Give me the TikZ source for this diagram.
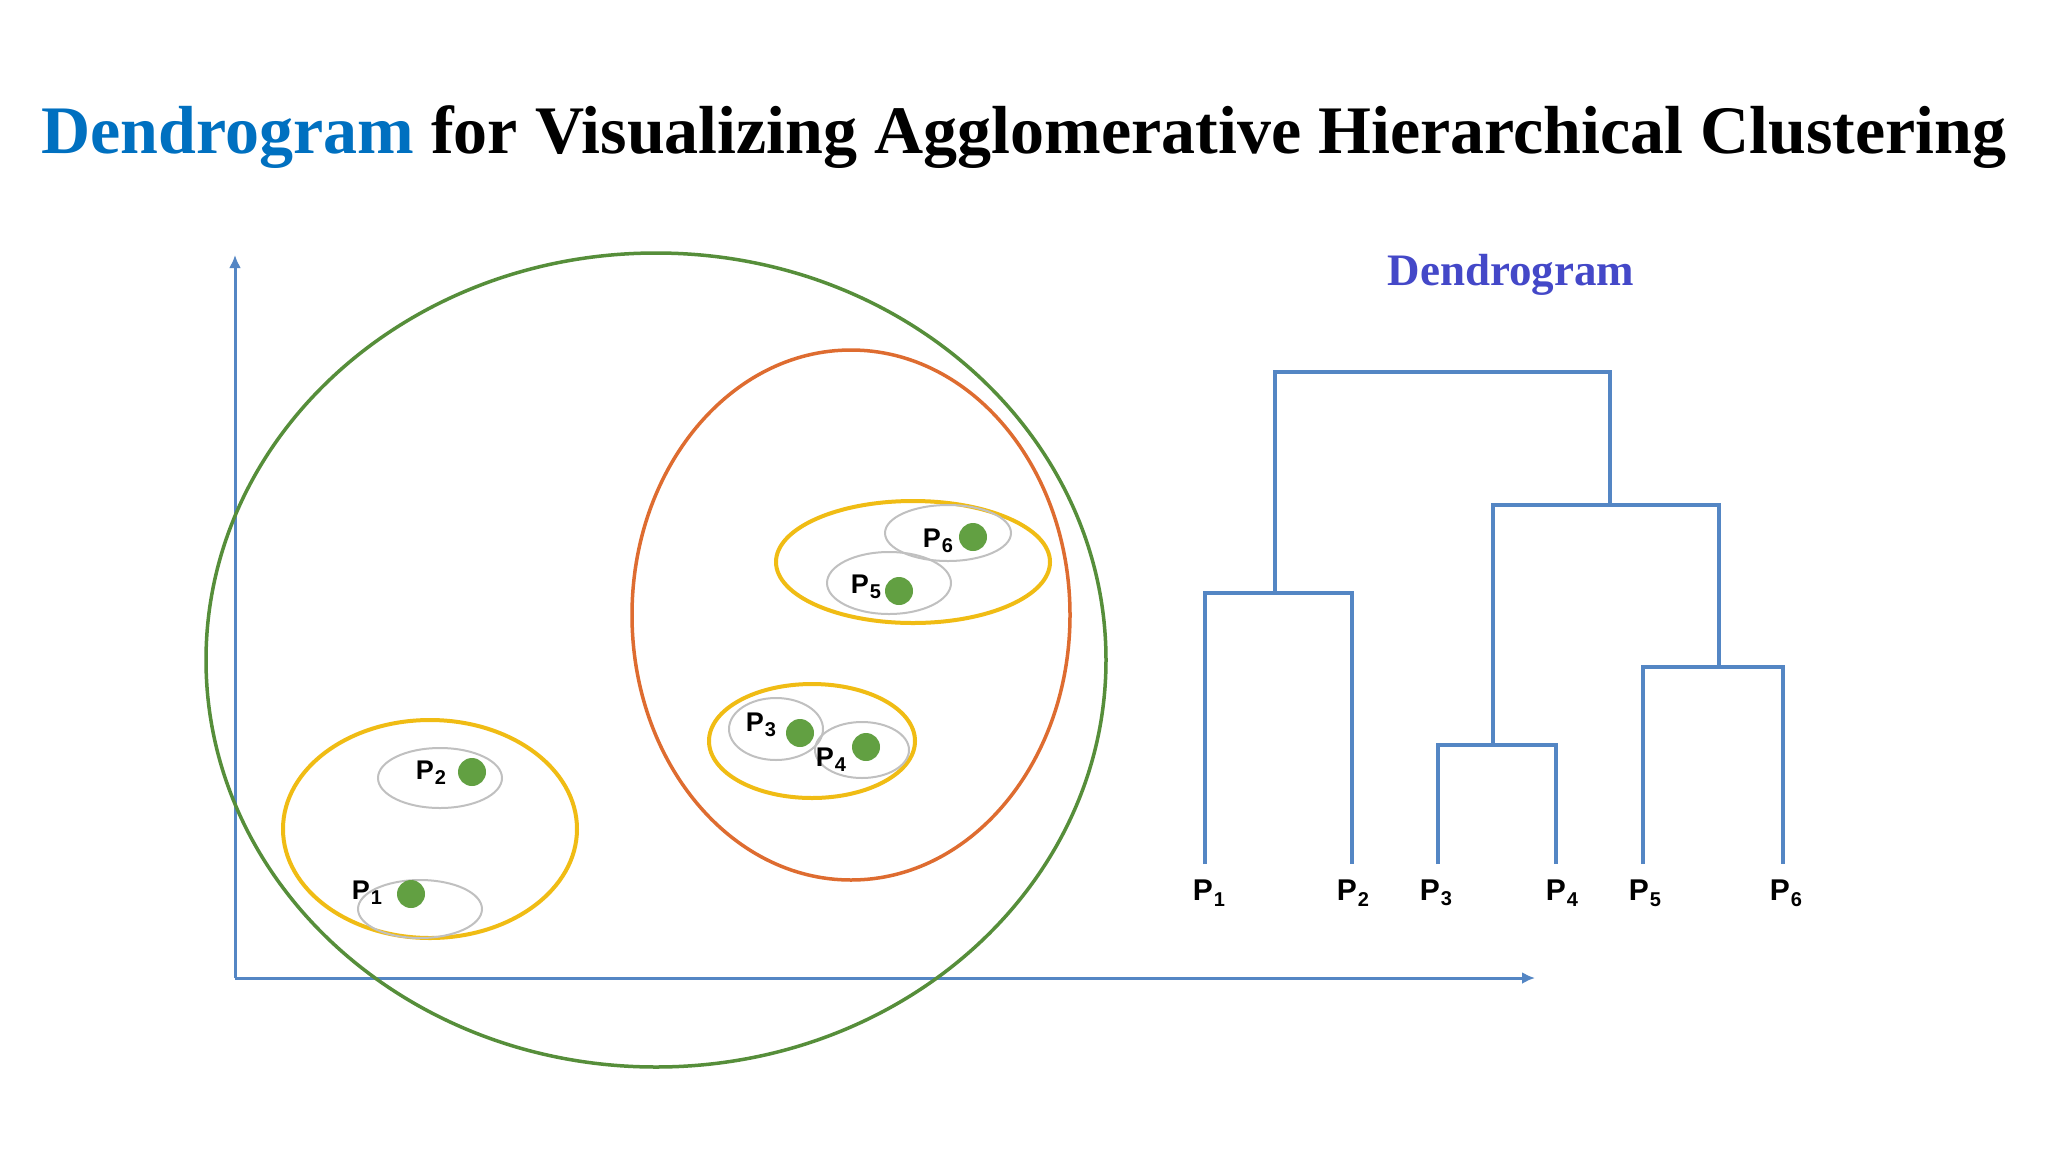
\documentclass[tikz,border=0pt]{standalone}
\usepackage{fontspec}
\setmainfont{Liberation Serif}
\setsansfont{Liberation Sans}
\usetikzlibrary{arrows.meta}
\definecolor{axisblue}{RGB}{84,134,196}
\definecolor{titleblue}{RGB}{0,112,192}
\definecolor{labelblue}{RGB}{68,72,200}
\definecolor{ringgreen}{RGB}{86,142,58}
\definecolor{ringorange}{RGB}{222,108,48}
\definecolor{ringyellow}{RGB}{240,188,20}
\definecolor{ringgray}{RGB}{192,192,192}
\definecolor{dotgreen}{RGB}{98,160,66}
\newcommand{\plab}[1]{P\kern1pt\raisebox{-0.35ex}{\fontsize{20}{20}\selectfont #1}}
\tikzset{
  axis/.style={axisblue, line width=3pt, -{Latex[length=13pt,width=12pt]}},
  branch/.style={axisblue, line width=3.5pt},
  dot/.style={circle, fill=dotgreen, minimum size=28pt, inner sep=0pt},
  ptlabel/.style={font=\sffamily\bfseries\fontsize{27}{28}\selectfont, inner sep=0pt},
  leaflabel/.style={font=\sffamily\bfseries\fontsize{30}{30}\selectfont, inner sep=0pt},
  pairring/.style={ringgray, line width=2pt},
}
\begin{document}
\begin{tikzpicture}[x=1pt,y=-1pt]
    \useasboundingbox[fill=white] (0,0) rectangle (2048,1152);
    %% Title
    \node[anchor=base, font=\bfseries\fontsize{68}{72}\selectfont] (title) at (1024,153)
        {\textcolor{titleblue}{Dendrogram} for Visualizing Agglomerative Hierarchical Clustering};
    %% Axes
    \coordinate (origin) at (235,978);
    \coordinate (ytip) at (235,255);
    \coordinate (xtip) at (1535,978);
    \draw[axis] (origin) -- (ytip);
    \draw[axis] (origin) -- (xtip);
    %% Clusters
    \draw[ringgreen, line width=3.5pt] (656,660) ellipse [x radius=450, y radius=407];
    \draw[ringorange, line width=3.5pt] (851,615) ellipse [x radius=219, y radius=265];
    \draw[ringyellow, line width=4pt] (430,829) ellipse [x radius=147, y radius=109];
    \draw[ringyellow, line width=4pt] (913,562) ellipse [x radius=137, y radius=61];
    \draw[ringyellow, line width=4pt] (812,741) ellipse [x radius=103, y radius=57];
    \draw[pairring] (420,909) ellipse [x radius=62, y radius=29];
    \draw[pairring] (440,778) ellipse [x radius=62, y radius=30];
    \draw[pairring] (776,729) ellipse [x radius=47, y radius=31];
    \draw[pairring] (862,750) ellipse [x radius=47, y radius=28];
    \draw[pairring] (889,583) ellipse [x radius=62, y radius=31];
    \draw[pairring] (948,533) ellipse [x radius=63, y radius=28];
    %% Points
    \foreach \i/\x/\y/\lx/\ly in {1/411/894/367/893, 2/472/772/431/773,
        3/800/733/761/725, 4/866/747/831/760, 5/899/591/866/587, 6/973/537/938/541}
    {
        \node[dot] (p\i) at (\x,\y) {};
        \node[ptlabel] (pl\i) at (\lx,\ly) {\plab{\i}};
    }
    %% Dendrogram
    \node[font=\bfseries\fontsize{45}{48}\selectfont, text=labelblue, anchor=base] (dtitle) at (1511,285) {Dendrogram};
    \foreach \i/\x/\lx in {1/1205/1209, 2/1352/1353, 3/1438/1436, 4/1556/1562, 5/1643/1645, 6/1783/1786}
    {
        \coordinate (leaf\i) at (\x,864);
        \node[leaflabel] (d\i) at (\lx,893) {\plab{\i}};
    }
    \coordinate (m12) at (1275,593);
    \coordinate (m34) at (1493,745);
    \coordinate (m56) at (1719,667);
    \coordinate (m3456) at (1610,505);
    \coordinate (root) at (1442,372);
    \draw[branch] (leaf1) |- (m12) -| (leaf2);
    \draw[branch] (leaf3) |- (m34) -| (leaf4);
    \draw[branch] (leaf5) |- (m56) -| (leaf6);
    \draw[branch] (m34) |- (m3456) -| (m56);
    \draw[branch] (m12) |- (root) -| (m3456);
\end{tikzpicture}
\end{document}
